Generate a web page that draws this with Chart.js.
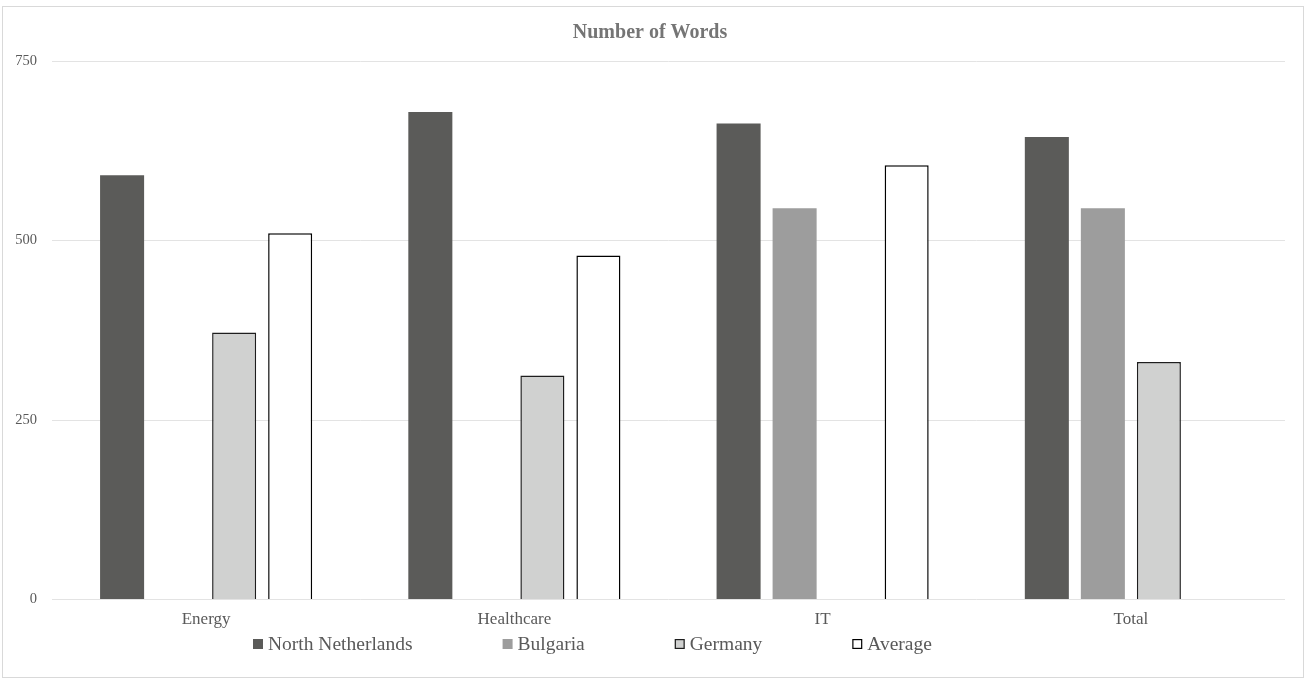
<!DOCTYPE html>
<html>
<head>
<meta charset="utf-8">
<script src="https://cdn.jsdelivr.net/npm/chart.js@4.4.0/dist/chart.umd.min.js"></script>
<style>
  html, body { margin: 0; padding: 0; background: #ffffff; }
  #frame {
    position: absolute; left: 2px; top: 6px;
    width: 1300px; height: 670px;
    border: 1px solid #d9d9d9;
    background: #ffffff;
  }
  #chart { display: block; }
</style>
</head>
<body>
<div id="frame"><canvas id="chart" width="1300" height="670"></canvas></div>
<script>
// Word counts per sector and region
const categories = ['Energy', 'Healthcare', 'IT', 'Total'];
const northNetherlands = [591, 679, 663, 644];
const bulgaria = [null, null, 545, 545];
const germany = [372, 312, null, 331];
const average = [510, 479, 605, null];
const yTicks = [0, 250, 500, 750];

const FONT = '"Liberation Serif", "Times New Roman", serif';
const TEXT = '#595959';

// Legend drawn on the canvas so item spacing can be set freely
const bottomLegend = {
  id: 'bottomLegend',
  afterDraw(chart) {
    const ctx = chart.ctx;
    const sets = chart.data.datasets;
    const box = 10, gapText = 5, spacing = 90;
    const y = 637;
    ctx.save();
    ctx.font = '19.5px ' + FONT;
    ctx.textBaseline = 'middle';
    const widths = sets.map(d => box + gapText + ctx.measureText(d.label).width);
    let x = 250;
    sets.forEach((d, i) => {
      ctx.fillStyle = d.backgroundColor;
      ctx.fillRect(x, y - box / 2, box, box);
      if (d.borderWidth) {
        ctx.strokeStyle = d.borderColor;
        ctx.lineWidth = 1.2;
        ctx.strokeRect(x + 0.6, y - box / 2 + 0.6, box - 1.2, box - 1.2);
      }
      ctx.fillStyle = TEXT;
      ctx.textAlign = 'left';
      ctx.fillText(d.label, x + box + gapText, y + 1);
      x += widths[i] + spacing;
    });
    ctx.restore();
  }
};

new Chart(document.getElementById('chart'), {
  type: 'bar',
  data: {
    labels: categories,
    datasets: [
      { label: 'North Netherlands', data: northNetherlands, backgroundColor: '#5b5b59', borderWidth: 0 },
      { label: 'Bulgaria', data: bulgaria, backgroundColor: '#9d9d9d', borderWidth: 0 },
      { label: 'Germany', data: germany, backgroundColor: '#d0d1d0', borderColor: '#1e1e1e', borderWidth: 1.5 },
      { label: 'Average', data: average, backgroundColor: '#ffffff', borderColor: '#000000', borderWidth: 1.5 }
    ]
  },
  options: {
    responsive: false,
    animation: false,
    categoryPercentage: 0.727,
    barPercentage: 0.786,
    layout: { padding: { left: 12, right: 18, top: 14, bottom: 37 } },
    plugins: {
      legend: { display: false },
      tooltip: { enabled: false },
      title: {
        display: true,
        text: 'Number of Words',
        color: '#757575',
        font: { family: FONT, size: 20, weight: 'bold' },
        padding: { top: 0, bottom: 16 }
      }
    },
    scales: {
      x: {
        grid: { display: false, drawTicks: false },
        border: { display: false },
        ticks: { color: TEXT, font: { family: FONT, size: 17 }, padding: 10 }
      },
      y: {
        min: 0,
        max: 750,
        afterBuildTicks(axis) { axis.ticks = yTicks.map(v => ({ value: v })); },
        afterFit(axis) { axis.width = 37; },
        grid: { color: '#e3e3e3', lineWidth: 1, drawTicks: false },
        border: { display: false },
        ticks: { color: TEXT, font: { family: FONT, size: 14.5 }, padding: 15 }
      }
    }
  },
  plugins: [bottomLegend]
});
</script>
</body>
</html>
